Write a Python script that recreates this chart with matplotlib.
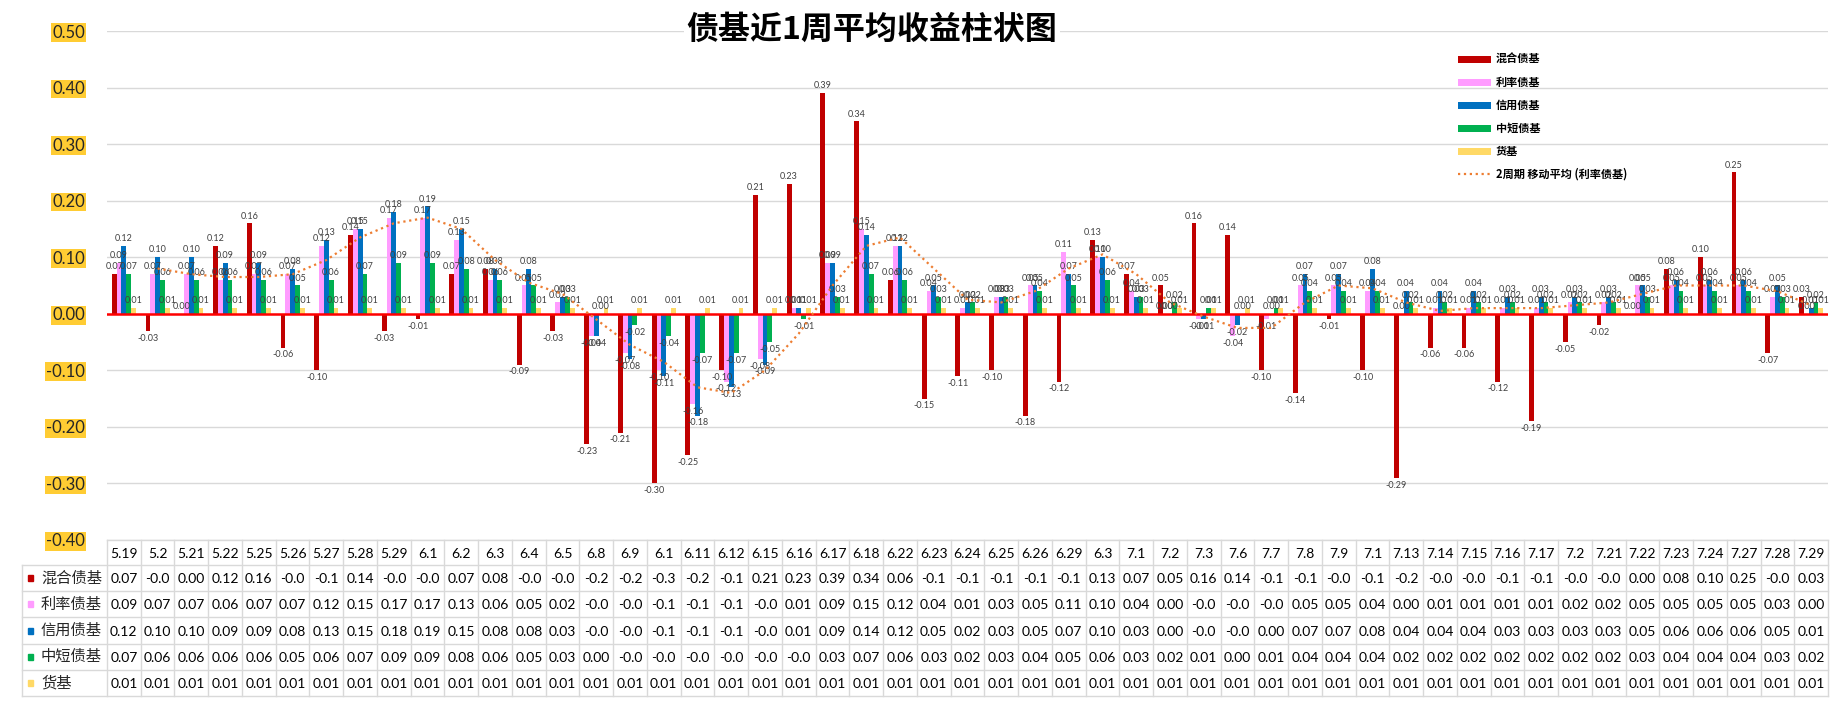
import matplotlib
matplotlib.use("Agg")
import numpy as np
import pandas as pd
import matplotlib.pyplot as plt

plt.rcParams['font.family'] = ['Lato', 'Noto Sans CJK SC', 'DejaVu Sans']

dates = ["5.19", "5.2", "5.21", "5.22", "5.25", "5.26", "5.27", "5.28", "5.29", "6.1",
         "6.2", "6.3", "6.4", "6.5", "6.8", "6.9", "6.1", "6.11", "6.12", "6.15",
         "6.16", "6.17", "6.18", "6.22", "6.23", "6.24", "6.25", "6.26", "6.29", "6.3",
         "7.1", "7.2", "7.3", "7.6", "7.7", "7.8", "7.9", "7.1", "7.13", "7.14",
         "7.15", "7.16", "7.17", "7.2", "7.21", "7.22", "7.23", "7.24", "7.27", "7.28", "7.29"]

mix = [0.07, -0.03, 0.00, 0.12, 0.16, -0.06, -0.10, 0.14, -0.03, -0.01,
       0.07, 0.08, -0.09, -0.03, -0.23, -0.21, -0.30, -0.25, -0.10, 0.21,
       0.23, 0.39, 0.34, 0.06, -0.15, -0.11, -0.10, -0.18, -0.12, 0.13,
       0.07, 0.05, 0.16, 0.14, -0.10, -0.14, -0.01, -0.10, -0.29, -0.06,
       -0.06, -0.12, -0.19, -0.05, -0.02, 0.00, 0.08, 0.10, 0.25, -0.07, 0.03]
rate = [0.09, 0.07, 0.07, 0.06, 0.07, 0.07, 0.12, 0.15, 0.17, 0.17,
        0.13, 0.06, 0.05, 0.02, -0.04, -0.07, -0.10, -0.16, -0.12, -0.08,
        0.01, 0.09, 0.15, 0.12, 0.04, 0.01, 0.03, 0.05, 0.11, 0.10,
        0.04, 0.00, -0.01, -0.04, -0.01, 0.05, 0.05, 0.04, 0.00, 0.01,
        0.01, 0.01, 0.01, 0.02, 0.02, 0.05, 0.05, 0.05, 0.05, 0.03, 0.00]
credit = [0.12, 0.10, 0.10, 0.09, 0.09, 0.08, 0.13, 0.15, 0.18, 0.19,
          0.15, 0.08, 0.08, 0.03, -0.04, -0.08, -0.11, -0.18, -0.13, -0.09,
          0.01, 0.09, 0.14, 0.12, 0.05, 0.02, 0.03, 0.05, 0.07, 0.10,
          0.03, 0.00, -0.01, -0.02, 0.00, 0.07, 0.07, 0.08, 0.04, 0.04,
          0.04, 0.03, 0.03, 0.03, 0.03, 0.05, 0.06, 0.06, 0.06, 0.05, 0.01]
short = [0.07, 0.06, 0.06, 0.06, 0.06, 0.05, 0.06, 0.07, 0.09, 0.09,
         0.08, 0.06, 0.05, 0.03, 0.00, -0.02, -0.04, -0.07, -0.07, -0.05,
         -0.01, 0.03, 0.07, 0.06, 0.03, 0.02, 0.03, 0.04, 0.05, 0.06,
         0.03, 0.02, 0.01, 0.00, 0.01, 0.04, 0.04, 0.04, 0.02, 0.02,
         0.02, 0.02, 0.02, 0.02, 0.02, 0.03, 0.04, 0.04, 0.04, 0.03, 0.02]
money = [0.01] * 51

names = ["混合债基", "利率债基", "信用债基", "中短债基", "货基"]
series = [mix, rate, credit, short, money]
colors = ["#C00000", "#FF9CFF", "#0070C0", "#00B050", "#FFD966"]
yticks = [-0.4, -0.3, -0.2, -0.1, 0.0, 0.1, 0.2, 0.3, 0.4, 0.5]

W, H = 1840, 706
L, R, T, B = 107, 1828, 31, 540
TB = 696


def cell_text(v):
    if v < 0:
        return "-%.1f" % ((int(round(abs(v) * 100)) // 10) / 10)
    return "%.2f" % v


fig = plt.figure(figsize=(W / 100, H / 100), dpi=100)
ax = fig.add_axes([L / W, 1 - B / H, (R - L) / W, (B - T) / H])
x = np.arange(len(dates))
bw = 0.143
handles = []
for k, (nm, vals, c) in enumerate(zip(names, series, colors)):
    bars = ax.bar(x + (k - 2) * bw, vals, width=bw, color=c, label=nm, zorder=2)
    ax.bar_label(bars, fmt="%.2f", padding=2, fontsize=6.5, color="#404040")
    handles.append(bars)

ma = pd.Series(rate).rolling(2).mean()
line, = ax.plot(x, ma, linestyle=":", color="#ED7D31", lw=1.6, zorder=4,
                label="2周期 移动平均 (利率债基)")
handles.append(line)

ax.axhline(0, color="#FF0000", lw=1.8, zorder=3)
ax.set_xlim(-0.5, len(dates) - 0.5)
ax.set_ylim(-0.4, 0.5)
ax.set_yticks(yticks)
ax.set_yticklabels(["%.2f" % v for v in yticks], fontsize=12, color="#262626")
for lab in ax.get_yticklabels():
    lab.set_bbox(dict(facecolor="#FFCC33", edgecolor="none", pad=1))
ax.tick_params(axis="y", length=0, pad=16)
ax.tick_params(axis="x", length=0, labelbottom=False)
ax.grid(axis="y", color="#D9D9D9", lw=1, zorder=0)
for s in ax.spines.values():
    s.set_visible(False)

fig.text(872 / W, 1 - 30 / H, "债基近1周平均收益柱状图", fontsize=23, fontweight="bold",
         ha="center", va="center", family=["Noto Sans CJK SC"],
         bbox=dict(facecolor="white", edgecolor="none", pad=2))

fig.legend(handles=handles, loc="upper left", bbox_to_anchor=(1458 / W, 1 - 53 / H),
           frameon=False, prop={"family": ["Noto Sans CJK SC"], "weight": "bold", "size": 8},
           handlelength=3.0, handleheight=0.6, handletextpad=0.4, labelspacing=0.9,
           borderpad=0, borderaxespad=0)

# data table under the chart
tab = fig.add_axes([L / W, 1 - TB / H, (R - L) / W, (TB - B) / H])
tab.set_xlim(-0.5, len(dates) - 0.5)
tab.set_ylim(TB - B, 0)
tab.axis("off")
hdr = 25
rh = (TB - B - hdr) / 5
xleft = -0.5 - 85 / ((R - L) / len(dates))
gc = "#D9D9D9"
tab.plot([-0.5, len(dates) - 0.5], [0, 0], color=gc, lw=1, clip_on=False)
for r in range(6):
    yy = hdr + r * rh
    tab.plot([xleft, len(dates) - 0.5], [yy, yy], color=gc, lw=1, clip_on=False)
for i in range(len(dates) + 1):
    tab.plot([i - 0.5, i - 0.5], [0, TB - B], color=gc, lw=1, clip_on=False)
tab.plot([xleft, xleft], [hdr, TB - B], color=gc, lw=1, clip_on=False)
for i, d in enumerate(dates):
    tab.text(i, hdr / 2 + 1, d, ha="center", va="center", fontsize=10, color="black")
for r, (nm, vals, c) in enumerate(zip(names, series, colors)):
    yc = hdr + (r + 0.5) * rh
    tab.add_patch(plt.Rectangle((xleft + 0.17, yc - 3), 0.16, 6, color=c, clip_on=False))
    tab.text(xleft + 0.56, yc, nm, ha="left", va="center", fontsize=11, color="#262626",
             family=["Noto Sans CJK SC"])
    for i, v in enumerate(vals):
        tab.text(i, yc + 1, cell_text(v), ha="center", va="center", fontsize=10, color="black")

fig.savefig("out.png", dpi=100)
